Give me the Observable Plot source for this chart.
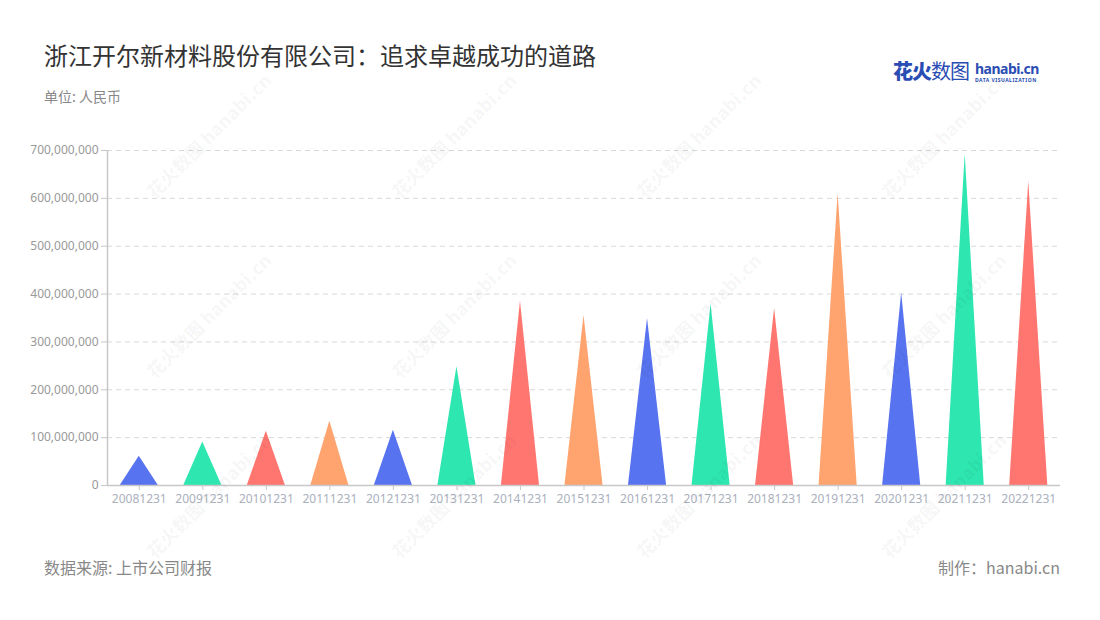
<!DOCTYPE html>
<html>
<head>
<meta charset="utf-8">
<script src="https://cdn.jsdelivr.net/npm/d3@7"></script>
<script src="https://cdn.jsdelivr.net/npm/@observablehq/plot@0.6"></script>
<style>
  html, body { margin: 0; padding: 0; background: #fff; }
  body { width: 1100px; height: 620px; position: relative; overflow: hidden;
         font-family: "Noto Sans", "Noto Sans CJK SC", sans-serif; }
  #title { position: absolute; left: 44px; top: 38px; font-size: 24px; color: #333;
           font-family: "Noto Sans CJK SC", sans-serif; line-height: 34px; }
  #subtitle { position: absolute; left: 44px; top: 86px; font-size: 14px; color: #888;
              font-family: "Noto Sans CJK SC", sans-serif; }
  #logo { position: absolute; left: 893px; top: 58px; height: 30px; }
  #logo .cn { position: absolute; left: 0; top: 0; font-size: 20px; font-weight: 900; color: #2a4db3;
              font-family: "Noto Sans CJK SC", sans-serif; letter-spacing: -1px; white-space: nowrap; line-height: 26px; }
  #logo .cn .lt { font-weight: 400; }
  #logo .en { position: absolute; left: 82px; top: 2px; font-size: 14px; font-weight: 700; color: #2a4db3;
              font-family: "Noto Sans", sans-serif; white-space: nowrap; line-height: 17px; letter-spacing: -0.5px; }
  #logo .sub { position: absolute; left: 82px; top: 19px; font-size: 5px; font-weight: 700; color: #2a4db3;
               font-family: "Noto Sans", sans-serif; white-space: nowrap; letter-spacing: 0.5px; }
  #chart { position: absolute; left: 0; top: 130px; }
  #source { position: absolute; left: 44px; top: 555px; font-size: 16px; color: #888;
            font-family: "Noto Sans CJK SC", sans-serif; }
  #credit { position: absolute; right: 40px; top: 555px; font-size: 16px; color: #888;
            font-family: "Noto Sans CJK SC", sans-serif; }
  .wm { position: absolute; font-size: 18px; font-weight: 900; color: rgba(0,0,0,0.04);
        transform: rotate(-45deg); transform-origin: left top; white-space: nowrap;
        font-family: "Noto Sans CJK SC", sans-serif; pointer-events: none; }
</style>
</head>
<body>
<div id="title">浙江开尔新材料股份有限公司：追求卓越成功的道路</div>
<div id="subtitle">单位: 人民币</div>
<div id="logo"><span class="cn">花火<span class="lt">数图</span></span><span class="en">hanabi.cn</span><span class="sub">DATA VISUALIZATION</span></div>
<div id="chart"></div>
<div id="source">数据来源: 上市公司财报</div>
<div id="credit">制作：hanabi.cn</div>
<script>
// Data
const years = ["20081231","20091231","20101231","20111231","20121231","20131231","20141231","20151231","20161231","20171231","20181231","20191231","20201231","20211231","20221231"];
const values = [61e6, 91e6, 113.5e6, 134.5e6, 115.5e6, 248e6, 385e6, 355e6, 349e6, 379e6, 370e6, 610e6, 402e6, 692e6, 635e6];
const palette = ["#5873ef", "#2ee6b0", "#ff7670", "#ffa36f"];
const yTicks = [0, 1e8, 2e8, 3e8, 4e8, 5e8, 6e8, 7e8];

// Triangles: base spans 60% of each category slot
const half = 0.3;
const tri = years.flatMap((yr, i) => [
  {x: i - half, y: 0, z: yr, c: palette[i % 4]},
  {x: i, y: values[i], z: yr, c: palette[i % 4]},
  {x: i + half, y: 0, z: yr, c: palette[i % 4]}
]);

const chart = Plot.plot({
  width: 1100,
  height: 390,
  marginLeft: 107,
  marginRight: 40,
  marginTop: 20,
  marginBottom: 35,
  style: {fontFamily: '"Noto Sans", sans-serif', fontSize: "12px", background: "transparent"},
  x: {type: "linear", domain: [-0.5, years.length - 0.5], label: null},
  y: {domain: [0, 7e8], label: null},
  color: {type: "identity"},
  marks: [
    Plot.gridY(yTicks.filter(t => t > 0), {stroke: "#d9d9d9", strokeOpacity: 1, strokeDasharray: "5,4"}),
    Plot.areaY(tri, {x: "x", y: "y", z: "z", fill: "c", curve: "linear"}),
    Plot.ruleY([0], {stroke: "#c8c8c8", strokeWidth: 1.5}),
    Plot.ruleX([-0.5], {stroke: "#c8c8c8", strokeWidth: 1.5}),
    Plot.axisY({ticks: yTicks, tickFormat: d3.format(","), tickSize: 6, tickPadding: 3, stroke: "#c8c8c8", color: "#999", label: null, fontSize: 12}),
    Plot.axisX({ticks: years.map((_, i) => i), tickFormat: i => years[i], tickSize: 5, tickPadding: 4, stroke: "#c8c8c8", color: "#aab0bc", label: null, fontSize: 12})
  ]
});
document.getElementById("chart").appendChild(chart);

// faint watermark
const wmPos = [[140,185],[385,185],[630,185],[875,185],[140,365],[385,365],[630,365],[875,365],[140,545],[385,545],[630,545],[875,545]];
wmPos.forEach(([l, t]) => {
  const d = document.createElement("div");
  d.className = "wm";
  d.style.left = l + "px";
  d.style.top = t + "px";
  d.textContent = "花火数图 hanabi.cn";
  document.body.appendChild(d);
});
</script>
</body>
</html>
